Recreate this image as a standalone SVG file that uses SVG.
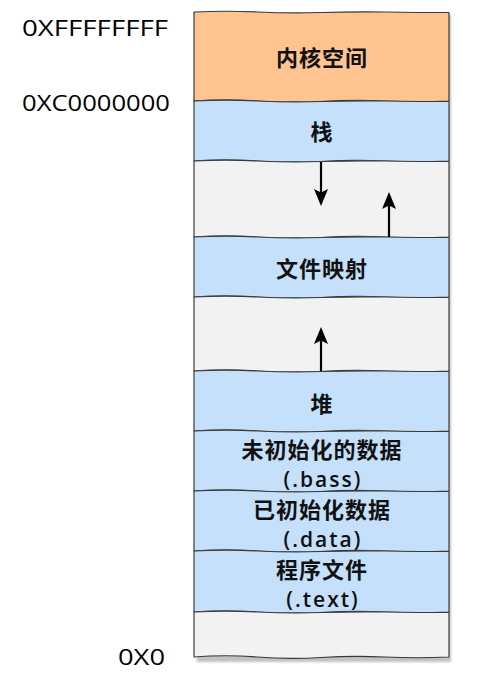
<svg xmlns="http://www.w3.org/2000/svg" width="478" height="682" viewBox="0 0 478 682">
  <style>
    .band { stroke: #3a3a3a; stroke-width: 1.2; stroke-linejoin: round; }
    .kernel { fill: #FFC48F; }
    .seg { fill: #C5E0FB; }
    .gap { fill: #F2F2F2; }
    .label { font-family: "Noto Sans CJK SC", "Noto Sans", sans-serif; font-weight: bold; font-size: 22px; fill: #111; text-anchor: middle; letter-spacing: 1px; }
    .sub { font-family: "Open Sans", "Noto Sans", sans-serif; font-weight: 600; font-size: 21px; fill: #111; text-anchor: middle; letter-spacing: 2px; }
    .addr { font-family: "Open Sans", "Noto Sans", sans-serif; font-size: 21px; fill: #000; }
    .link { stroke: #000; stroke-width: 2.2; fill: none; }
    .tip { fill: #000; stroke: none; }
  </style>
  <defs>
    <!-- arrowhead pointing up, tip at the origin -->
    <path id="tip-up" class="tip" d="M0,0 L7,17 L0,13.5 L-7,17 Z"/>
    <filter id="shadow" x="-5%" y="-5%" width="115%" height="115%">
      <feGaussianBlur stdDeviation="1"/>
    </filter>
  </defs>

  <!-- soft drop shadow under the column -->
  <rect x="197" y="15" width="254" height="647" fill="#9a9a9a" opacity="0.6" filter="url(#shadow)"/>

  <g id="kernel">
    <path class="band kernel" d="M194,12 q32,-1.5 64,0 t64,0.5 t64,-0.5 t63,0.5 L449,101 q-32,1.5 -64,0 t-64,0.5 t-64,-0.5 t-63,0 Z"/>
    <text class="label" x="322" y="66">内核空间</text>
  </g>

  <g id="stack">
    <path class="band seg" d="M194,101 q32,-1.5 64,0 t64,0.5 t64,-0.5 t63,0.5 L449,161 q-32,1.5 -64,0 t-64,0.5 t-64,-0.5 t-63,0 Z"/>
    <text class="label" x="322" y="140">栈</text>
  </g>

  <g id="gap-upper">
    <path class="band gap" d="M194,161 q32,-1.5 64,0 t64,0.5 t64,-0.5 t63,0.5 L449,237 q-32,1.5 -64,0 t-64,0.5 t-64,-0.5 t-63,0 Z"/>
  </g>

  <g id="mmap">
    <path class="band seg" d="M194,237 q32,-1.5 64,0 t64,0.5 t64,-0.5 t63,0.5 L449,297 q-32,1.5 -64,0 t-64,0.5 t-64,-0.5 t-63,0 Z"/>
    <text class="label" x="322" y="277">文件映射</text>
  </g>

  <g id="gap-middle">
    <path class="band gap" d="M194,297 q32,-1.5 64,0 t64,0.5 t64,-0.5 t63,0.5 L449,371 q-32,1.5 -64,0 t-64,0.5 t-64,-0.5 t-63,0 Z"/>
  </g>

  <g id="heap">
    <path class="band seg" d="M194,371 q32,-1.5 64,0 t64,0.5 t64,-0.5 t63,0.5 L449,431 q-32,1.5 -64,0 t-64,0.5 t-64,-0.5 t-63,0 Z"/>
    <text class="label" x="322" y="412">堆</text>
  </g>

  <g id="bss">
    <path class="band seg" d="M194,431 q32,-1.5 64,0 t64,0.5 t64,-0.5 t63,0.5 L449,491 q-32,1.5 -64,0 t-64,0.5 t-64,-0.5 t-63,0 Z"/>
    <text class="label" x="322" y="458">未初始化的数据</text>
    <text class="sub" x="323" y="487">(.bass)</text>
  </g>

  <g id="data">
    <path class="band seg" d="M194,491 q32,-1.5 64,0 t64,0.5 t64,-0.5 t63,0.5 L449,551 q-32,1.5 -64,0 t-64,0.5 t-64,-0.5 t-63,0 Z"/>
    <text class="label" x="322" y="518">已初始化数据</text>
    <text class="sub" x="323" y="547">(.data)</text>
  </g>

  <g id="text">
    <path class="band seg" d="M194,551 q32,-1.5 64,0 t64,0.5 t64,-0.5 t63,0.5 L449,612 q-32,1.5 -64,0 t-64,0.5 t-64,-0.5 t-63,0 Z"/>
    <text class="label" x="322" y="578">程序文件</text>
    <text class="sub" x="323" y="607">(.text)</text>
  </g>

  <g id="gap-lower">
    <path class="band gap" d="M194,612 q32,-1.5 64,0 t64,0.5 t64,-0.5 t63,0.5 L449,657 q-32,1.5 -64,0 t-64,0.5 t-64,-0.5 t-63,0 Z"/>
  </g>

  <g id="addresses">
    <text class="addr" x="22" y="36" textLength="146" lengthAdjust="spacingAndGlyphs">0XFFFFFFFF</text>
    <text class="addr" x="22" y="111" textLength="148" lengthAdjust="spacingAndGlyphs">0XC0000000</text>
    <text class="addr" x="118" y="665" textLength="47" lengthAdjust="spacingAndGlyphs">0X0</text>
  </g>

  <g id="connectors">
    <!-- stack grows downward -->
    <line class="link" x1="321" y1="162" x2="321" y2="194"/>
    <use href="#tip-up" transform="translate(321,206) rotate(180)"/>
    <!-- mapping area grows upward -->
    <line class="link" x1="389" y1="237" x2="389" y2="204"/>
    <use href="#tip-up" transform="translate(389,192)"/>
    <!-- heap grows upward -->
    <line class="link" x1="321" y1="371" x2="321" y2="339"/>
    <use href="#tip-up" transform="translate(321,327)"/>
  </g>
</svg>
